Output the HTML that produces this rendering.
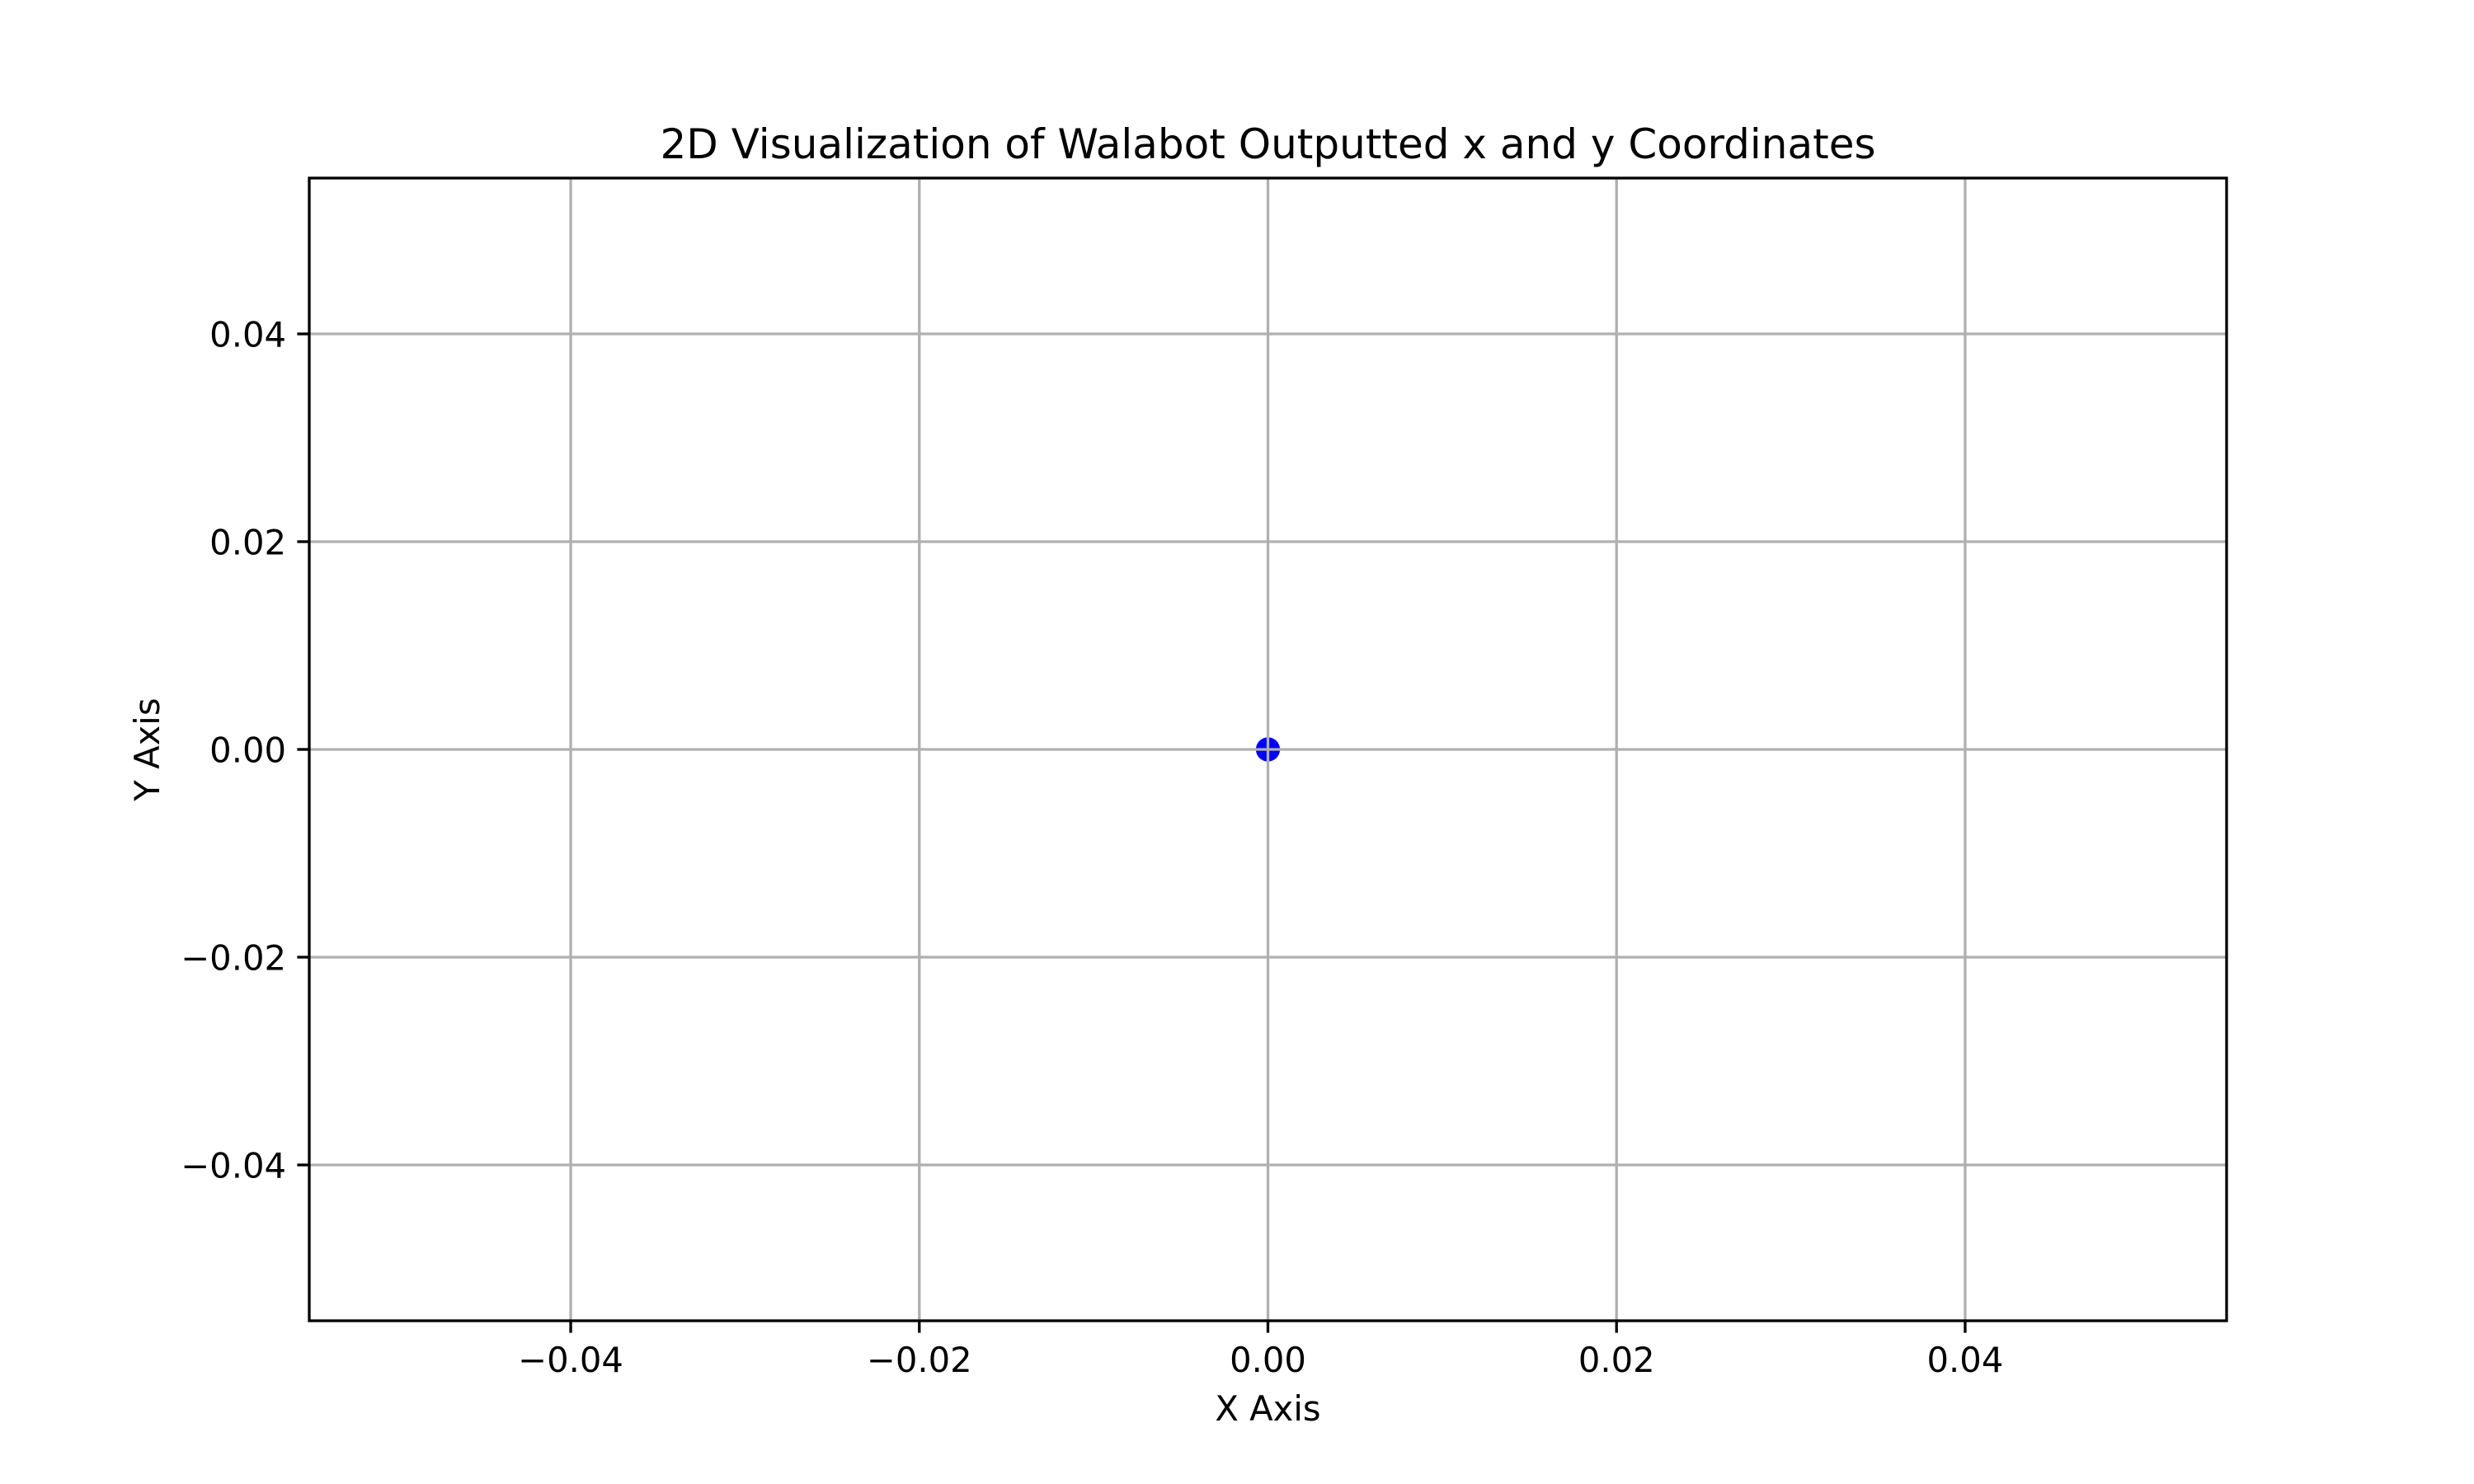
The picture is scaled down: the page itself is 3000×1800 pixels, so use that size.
<!DOCTYPE html>
<html><head><meta charset="utf-8"><style>
html,body{margin:0;padding:0;background:#fff;}
svg{display:block;font-family:"DejaVu Sans","Liberation Sans",sans-serif;}
</style></head><body>
<svg id="chart" width="3000" height="1800" viewBox="0 0 3000 1800" xmlns="http://www.w3.org/2000/svg">
<rect x="0" y="0" width="3000" height="1800" fill="#fff"/>
<g id="grid"></g>
<g id="marks"></g>
<g id="gridTop"></g>
<rect x="375" y="216" width="2325" height="1386" fill="none" stroke="#000" stroke-width="3.33"/>
<g id="ticks"></g>
<text x="1537.5" y="192" font-size="50" text-anchor="middle">2D Visualization of Walabot Outputted x and y Coordinates</text>
<text x="1537.5" y="1723" font-size="41.7" text-anchor="middle">X Axis</text>
<text transform="translate(193,909) rotate(-90)" font-size="41.7" text-anchor="middle">Y Axis</text>
</svg>
<script>
const xTicks = [-0.04, -0.02, 0.00, 0.02, 0.04];
const yTicks = [-0.04, -0.02, 0.00, 0.02, 0.04];
const xTickLabels = ["\u22120.04", "\u22120.02", "0.00", "0.02", "0.04"];
const yTickLabels = ["\u22120.04", "\u22120.02", "0.00", "0.02", "0.04"];
const pointsX = [0.0];
const pointsY = [0.0];
const xMin = -0.055, xMax = 0.055, yMin = -0.055, yMax = 0.055;

const L = 375, R = 2700, T = 216, B = 1602;
function sx(v){ return L + (v - xMin) / (xMax - xMin) * (R - L); }
function sy(v){ return B - (v - yMin) / (yMax - yMin) * (B - T); }
const NS = "http://www.w3.org/2000/svg";
function mk(tag, attrs, parent){
  const e = document.createElementNS(NS, tag);
  for (const k in attrs) e.setAttribute(k, attrs[k]);
  parent.appendChild(e);
  return e;
}
const gridTop = document.getElementById('gridTop');
const marks = document.getElementById('marks');
const ticks = document.getElementById('ticks');

xTicks.forEach((v, i) => {
  const x = sx(v);
  const g = mk('line', {x1:x, x2:x, y1:T, y2:B, stroke:'#b0b0b0', 'stroke-width':3.33}, gridTop);
  
  
  const t = mk('line', {x1:x, x2:x, y1:B, y2:B+14.6, stroke:'#000', 'stroke-width':3.33}, ticks);
  
  
  const lb = mk('text', {x:x, y:1664, 'font-size':41.7, 'text-anchor':'middle'}, ticks);
  lb.textContent = xTickLabels[i];
  
  
});
yTicks.forEach((v, i) => {
  const y = sy(v);
  const g = mk('line', {x1:L, x2:R, y1:y, y2:y, stroke:'#b0b0b0', 'stroke-width':3.33}, gridTop);
  
  
  const t = mk('line', {x1:L-14.6, x2:L, y1:y, y2:y, stroke:'#000', 'stroke-width':3.33}, ticks);
  
  
  const lb = mk('text', {x:347, y:y+15.5, 'font-size':41.7, 'text-anchor':'end'}, ticks);
  lb.textContent = yTickLabels[i];
  
  
});
pointsX.forEach((v, i) => {
  const c = mk('circle', {cx:sx(v), cy:sy(pointsY[i]), r:14.6, fill:'#0000ff'}, marks);
  
  
});
</script>
</body></html>
